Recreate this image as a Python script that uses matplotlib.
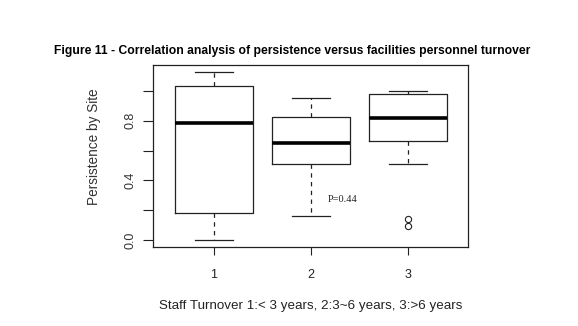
import matplotlib
matplotlib.use("Agg")
import matplotlib.pyplot as plt

# Data
groups = ["1", "2", "3"]
whisker_low = [0.00, 0.16, 0.51]
q1 = [0.18, 0.51, 0.665]
median = [0.785, 0.653, 0.818]
q3 = [1.035, 0.822, 0.98]
whisker_high = [1.125, 0.955, 1.002]
outliers = [[], [], [0.141, 0.094]]
yticks = [0.0, 0.2, 0.4, 0.6, 0.8, 1.0]
ytick_labels = ["0.0", "", "0.4", "", "0.8", ""]

title = "Figure 11 - Correlation analysis of persistence versus facilities personnel turnover"
xlabel = "Staff Turnover 1:< 3 years, 2:3~6 years, 3:>6 years"
ylabel = "Persistence by Site"
annot = "P=0.44"

plt.rcParams['font.family'] = ['Liberation Sans', 'DejaVu Sans']

fig = plt.figure(figsize=(5.78, 3.26), dpi=100)
ax = fig.add_axes([0.2647, 0.2423, 0.545, 0.5583])

stats = []
for i in range(len(groups)):
    stats.append(dict(med=median[i], q1=q1[i], q3=q3[i],
                      whislo=whisker_low[i], whishi=whisker_high[i],
                      fliers=outliers[i], label=groups[i]))

ink = "#222222"
ax.bxp(stats, positions=[1, 2, 3], widths=0.8, showfliers=True,
       boxprops=dict(color=ink, linewidth=0.9),
       medianprops=dict(color="black", linewidth=2.6, solid_capstyle="butt"),
       whiskerprops=dict(color=ink, linewidth=0.9, linestyle=(0, (3.5, 3.5))),
       capprops=dict(color=ink, linewidth=0.9),
       capwidths=0.4,
       flierprops=dict(marker="o", markerfacecolor="none", markeredgecolor=ink,
                       markersize=4.5, markeredgewidth=0.8))

ax.set_xlim(0.37, 3.62)
ax.set_ylim(-0.047, 1.174)

ax.set_yticks(yticks)
ax.set_yticklabels(ytick_labels, rotation=90, va="center", fontsize=9, color="#333333")
ax.set_xticks([1, 2, 3])
ax.set_xticklabels(groups, fontsize=9, color="#222222")
ax.tick_params(axis="y", length=7, width=0.8, pad=5, color=ink)
ax.tick_params(axis="x", length=6, width=0.8, pad=10, color=ink)

for s in ax.spines.values():
    s.set_color(ink)
    s.set_linewidth(0.9)

ax.set_ylabel(ylabel, fontsize=9.8, color="#333333")
ax.yaxis.set_label_coords(-0.165, 0.552)
ax.set_xlabel(xlabel, fontsize=9.6, color="#222222")
ax.xaxis.set_label_coords(0.50, -0.291)

ax.text(2.176, 0.275, annot, family=["Liberation Serif", "DejaVu Serif"],
        fontsize=7.5, va="center", ha="left", color="#222222")

fig.text(0.505, 0.8436, title, ha="center", va="center", fontsize=8.7,
         fontweight="bold", color="black")

fig.savefig("out.png", dpi=100)
